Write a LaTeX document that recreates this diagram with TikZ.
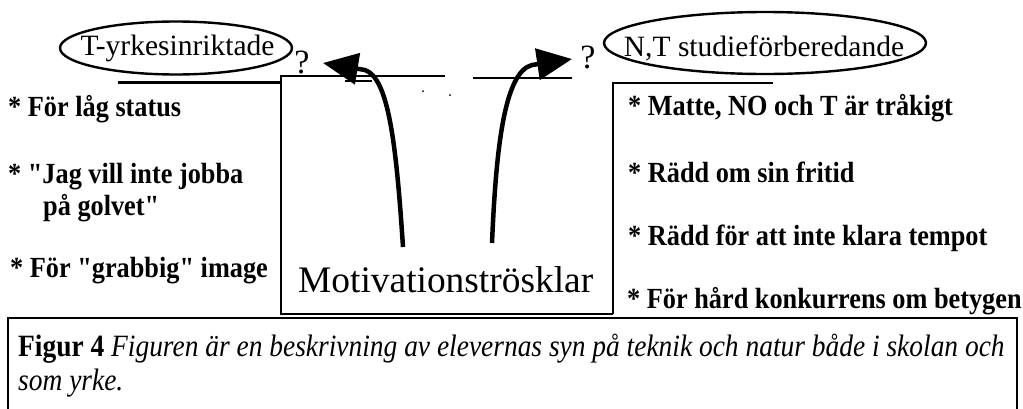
\documentclass[tikz,border=0pt]{standalone}
\usepackage{fontspec}
\setmainfont{Liberation Serif}[Ligatures=TeXOff]
\usetikzlibrary{shapes.geometric,arrows.meta}
\newcommand{\sqzitem}[1]{\scalebox{0.9}[1]{#1}}
\newcommand{\sqzcap}[1]{\scalebox{0.885}[1]{#1}}
\tikzset{
  oval/.style={ellipse, draw, line width=2.4pt, inner sep=0pt},
  lbl/.style={font=\fontsize{29.5}{32}\selectfont, anchor=base, inner sep=0pt},
  qm/.style={font=\fontsize{34}{36}\selectfont, anchor=base, inner sep=0pt},
  item/.style={font=\bfseries\fontsize{29.2}{32}\selectfont, anchor=base west, inner sep=0pt},
  motiv/.style={font=\fontsize{37.4}{40}\selectfont, anchor=base west, inner sep=0pt},
  capt/.style={font=\fontsize{31}{34}\selectfont, anchor=base west, inner sep=0pt},
  rulethick/.style={line width=3pt},
  rulethin/.style={line width=2pt},
  shaft/.style={line width=4.5pt, -{Triangle[length=35pt,width=31pt]}},
}
\begin{document}
\begin{tikzpicture}[x=1pt,y=-1pt]
\useasboundingbox (0,0) rectangle (1023,408);
% ellipses and labels
\node[oval, minimum width=232pt, minimum height=53pt] (lell) at (176,48) {};
\node[lbl] (ltxt) at (177.5,55) {T-yrkesinriktade};
\node[oval, minimum width=322pt, minimum height=62pt] (rell) at (765,43) {};
\node[lbl] (rtxt) at (764,56) {N,T studieförberedande};
\node[qm] (lq) at (302,73) {?};
\node[qm] (rq) at (588,68) {?};
% lines
\coordinate (ll1) at (118,82);
\coordinate (ll2) at (281,82);
\draw[rulethick] (ll1) -- (ll2);
\coordinate (mtl) at (281,76);
\coordinate (mtr) at (445,76);
\coordinate (mbl) at (281,314);
\coordinate (mbr) at (613,314);
\draw[rulethin] (mtr) -- (mtl) -- (mbl) -- (mbr);
\coordinate (s1) at (473,78);
\coordinate (s2) at (572,78);
\draw[line width=1.6pt] (s1) -- (s2);
\coordinate (rb1) at (773,83);
\coordinate (rb2) at (613,83);
\draw[rulethin] (rb1) -- (rb2) -- (mbr);
\coordinate (n1) at (345,81);
\coordinate (n2) at (372,81);
\draw[line width=1.5pt] (n1) -- (n2);
\fill (423,91) circle (1pt) (450,95) circle (1pt);
% arrows
\coordinate (lbot) at (403,247);
\coordinate (lbend) at (365,70);
\coordinate (ltip) at (323,63);
\draw[shaft] (lbot) .. controls (396,140) and (388,78) .. (lbend) -- (ltip);
\coordinate (rbot) at (492,243);
\coordinate (rbend) at (532,65);
\coordinate (rtip) at (572,59);
\draw[shaft] (rbot) .. controls (496,150) and (504,72) .. (rbend) -- (rtip);
% left list
\node[item] (l1) at (8,116) {\sqzitem{* För låg status}};
\node[item] (l2) at (8,183) {\sqzitem{* "Jag vill inte jobba}};
\node[item] (l3) at (43,215) {\sqzitem{på golvet"}};
\node[item] (l4) at (10,277) {\sqzitem{* För "grabbig" image}};
% middle
\node[motiv] (mot) at (298,292) {Motivationströsklar};
% right list
\node[item] (r1) at (628,115) {\sqzitem{* Matte, NO och T är tråkigt}};
\node[item] (r2) at (628,182) {\sqzitem{* Rädd om sin fritid}};
\node[item] (r3) at (628,245) {\sqzitem{* Rädd för att inte klara tempot}};
\node[item] (r4) at (627,308) {\sqzitem{* För hård konkurrens om betygen}};
% caption box
\coordinate (c1) at (8,410);
\coordinate (c2) at (8,318);
\coordinate (c3) at (1017,318);
\coordinate (c4) at (1017,410);
\draw[line width=1.6pt] (c1) -- (c2) -- (c3) -- (c4);
\node[capt] (cap1) at (18,356) {\sqzcap{\textbf{Figur 4} \textit{Figuren är en beskrivning av elevernas syn på teknik och natur både i skolan och}}};
\node[capt] (cap2) at (18,390) {\sqzcap{\textit{som yrke.}}};
\end{tikzpicture}
\end{document}
